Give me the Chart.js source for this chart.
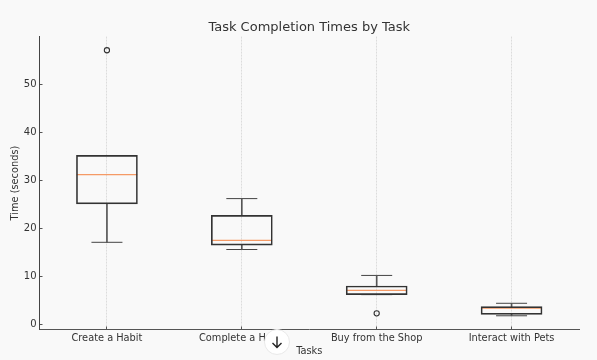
<!DOCTYPE html>
<html lang="en">
<head>
    <meta charset="UTF-8">
    <title>Task Completion Times by Task</title>
    <script src="https://cdn.jsdelivr.net/npm/chart.js"></script>
    <style>
        body { margin: 0; background: #f9f9f9; }
        #wrap { position: relative; width: 597px; height: 360px; overflow: hidden; }
        #down {
            position: absolute; left: 264px; top: 329px; width: 26px; height: 26px;
            border-radius: 50%; background: #fff; border: 1px solid #e8e8e8; box-sizing: border-box;
        }
        #down svg { display: block; margin: 5px auto 0; }
    </style>
</head>
<body>
    <div id="wrap">
        <canvas id="grafico" width="597" height="360"></canvas>
        <div id="down">
            <svg width="14" height="14" viewBox="0 0 14 14" fill="none" stroke="#222" stroke-width="1.4">
                <path d="M7 1.5V12.5M2.5 8L7 12.5L11.5 8"/>
            </svg>
        </div>
    </div>

    <script>
        const tarefas = ['Create a Habit', 'Complete a Habit', 'Buy from the Shop', 'Interact with Pets'];
        const minimos = [17.2, 15.7, 6.3, 1.9];
        const q1 = [25.2, 16.6, 6.3, 2.2];
        const medianas = [31.3, 17.6, 7.2, 3.5];
        const q3 = [35.3, 22.8, 8.1, 3.8];
        const maximos = [35.3, 26.3, 10.3, 4.5];
        const outliers = [57.2, null, 2.4, null];
        const yTicks = [0, 10, 20, 30, 40, 50];

        const cinza = '#333333';
        const fonte = 'DejaVu Sans';

        // a box plot made of floating bars (box, whiskers) and line points (caps, median, outliers)
        function barra(dados, largura, borda) {
            return {
                type: 'bar',
                data: dados,
                grouped: false,
                barThickness: largura,
                backgroundColor: borda ? 'rgba(0,0,0,0)' : '#555555',
                borderColor: '#333333',
                borderWidth: borda,
                borderSkipped: false
            };
        }

        function marca(dados, estilo, raio, cor, espessura) {
            return {
                type: 'line',
                data: dados,
                showLine: false,
                pointStyle: estilo,
                pointRadius: raio,
                pointBackgroundColor: 'rgba(0,0,0,0)',
                pointBorderColor: cor,
                pointBorderWidth: espessura
            };
        }

        // the label overhang chart.js reserves would shrink the plot area
        function semFolga(escala) {
            escala.paddingLeft = 0;
            escala.paddingRight = 0;
            escala.paddingTop = 0;
            escala.paddingBottom = 0;
        }

        new Chart(document.getElementById('grafico'), {
            data: {
                labels: tarefas,
                datasets: [
                    barra(tarefas.map((t, i) => [q1[i], q3[i]]), 61, 1),
                    barra(tarefas.map((t, i) => [minimos[i], q1[i]]), 1, 0),
                    barra(tarefas.map((t, i) => [q3[i], maximos[i]]), 1, 0),
                    marca(minimos, 'line', 15.5, '#444444', 1),
                    marca(tarefas.map((t, i) => maximos[i] === q3[i] ? null : maximos[i]), 'line', 15.5, '#444444', 1),
                    marca(medianas, 'line', 30.3, '#f59a66', 1.2),
                    marca(outliers, 'circle', 2.6, '#333333', 1.1)
                ]
            },
            options: {
                responsive: false,
                animation: false,
                // the long median markers would otherwise reserve room around the plot
                layout: { autoPadding: false, padding: { top: 18, right: 18, left: 0, bottom: 0 } },
                plugins: {
                    legend: { display: false },
                    tooltip: { enabled: false },
                    title: {
                        display: true,
                        fullSize: false,
                        text: 'Task Completion Times by Task',
                        color: cinza,
                        font: { family: fonte, size: 13, weight: 'normal' },
                        padding: { top: 2, bottom: 1 }
                    }
                },
                scales: {
                    x: {
                        offset: true,
                        grid: { offset: false, color: '#dcdcdc', lineWidth: 1, tickLength: -3, tickColor: '#555555' },
                        border: { color: '#555555', width: 1, dash: [2, 1] },
                        ticks: { color: cinza, font: { family: fonte, size: 9.8 }, padding: 6, maxRotation: 0, autoSkip: false },
                        title: {
                            display: true,
                            text: 'Tasks',
                            color: cinza,
                            font: { family: fonte, size: 9.8 },
                            padding: { top: 0, bottom: 3 }
                        },
                        afterFit: function(escala) { escala.height = 30.5; semFolga(escala); }
                    },
                    y: {
                        min: -0.96,
                        max: 60.04,
                        afterBuildTicks: function(escala) { escala.ticks = yTicks.map(v => ({ value: v })); },
                        grid: { drawOnChartArea: false, tickLength: -3, tickColor: '#555555' },
                        border: { color: '#444444', width: 1 },
                        ticks: { color: cinza, font: { family: fonte, size: 10 }, padding: 6 },
                        title: {
                            display: true,
                            text: 'Time (seconds)',
                            color: cinza,
                            font: { family: fonte, size: 9.8 },
                            padding: { top: 10, bottom: 0 }
                        },
                        afterFit: function(escala) { escala.width = 39.5; semFolga(escala); }
                    }
                }
            }
        });
    </script>
</body>
</html>
